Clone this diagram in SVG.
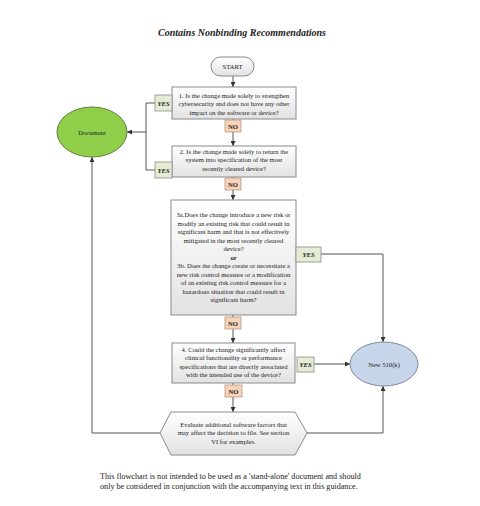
<svg xmlns="http://www.w3.org/2000/svg" width="480" height="506" viewBox="0 0 480 506">
<defs>
<linearGradient id="boxg" x1="0" y1="0" x2="0" y2="1">
<stop offset="0" stop-color="#ffffff"/>
<stop offset="1" stop-color="#e2e2e2"/>
</linearGradient>
<marker id="arr" viewBox="0 0 6 6" refX="6" refY="3" markerWidth="5" markerHeight="5" orient="auto" markerUnits="userSpaceOnUse">
<path d="M0,0 L6,3 L0,6 z" fill="#333"/>
</marker>
</defs>
<style>
text{font-family:"Liberation Serif","Times New Roman",serif;fill:#222;text-anchor:middle}
.t{font-size:6.6px}
.box{fill:url(#boxg);stroke:#8a8a8a;stroke-width:1}
.yes{fill:#e6ecd4;stroke:#8a8a8a;stroke-width:0.8}
.no{fill:#f9d3b8;stroke:#b09a8a;stroke-width:0.8}
.lbl{font-size:6.6px;font-weight:bold}
.yl{font-style:italic}
.ln{fill:none;stroke:#555;stroke-width:1}
.foot{font-size:8.15px;text-anchor:start;fill:#222}
</style>
<rect width="480" height="506" fill="#fff"/>
<text x="242" y="36" style="font-size:10px;font-weight:bold;font-style:italic">Contains Nonbinding Recommendations</text>

<g id="connectors">
<path class="ln" d="M233,76 V87" marker-end="url(#arr)"/>
<path class="ln" d="M233,119 V146" marker-end="url(#arr)"/>
<path class="ln" d="M233,177 V200" marker-end="url(#arr)"/>
<path class="ln" d="M233,315 V343" marker-end="url(#arr)"/>
<path class="ln" d="M233,383 V412" marker-end="url(#arr)"/>
<path class="ln" d="M155,103 H146 V170 H155"/>
<path class="ln" d="M146,132 H127" marker-end="url(#arr)"/>
<path class="ln" d="M321,254 H383 V342" marker-end="url(#arr)"/>
<path class="ln" d="M314,364 H350" marker-end="url(#arr)"/>
<path class="ln" d="M307,433 H383 V386" marker-end="url(#arr)"/>
<path class="ln" d="M160,433 H92 V157" marker-end="url(#arr)"/>
</g>

<g id="start">
<rect x="211" y="57" width="43" height="19" rx="9.5" class="box"/>
<text x="232.5" y="69" class="t">START</text>
</g>

<g id="q1">
<rect x="172" y="87" width="124" height="32" class="box"/>
<text class="t" x="234" y="97.5">1. Is the change made solely to strengthen</text>
<text class="t" x="234" y="106">cybersecurity and does not have any other</text>
<text class="t" x="234" y="114.5">impact on the software or device?</text>
</g>
<g id="yes1"><rect x="155" y="95" width="17" height="16" class="yes"/><text x="163.5" y="105.5" class="lbl yl">YES</text></g>
<g id="no1"><rect x="225" y="120" width="16" height="12" class="no"/><text x="233" y="128.5" class="lbl">NO</text></g>

<g id="q2">
<rect x="172" y="146" width="124" height="31" class="box"/>
<text class="t" x="234" y="153.5">2. Is the change made solely to return the</text>
<text class="t" x="234" y="162">system into specification of the most</text>
<text class="t" x="234" y="170.5">recently cleared device?</text>
</g>
<g id="yes2"><rect x="155" y="162" width="17" height="16" class="yes"/><text x="163.5" y="172.5" class="lbl yl">YES</text></g>
<g id="no2"><rect x="225" y="178" width="16" height="12" class="no"/><text x="233" y="186.5" class="lbl">NO</text></g>

<g id="document">
<ellipse cx="92" cy="132" rx="35" ry="25" fill="#8fcf4a" stroke="#5f7f3a" stroke-width="1"/>
<text x="92" y="134.5" class="t">Document</text>
</g>

<g id="q3">
<rect x="171" y="200" width="125" height="115" class="box"/>
<text class="t" x="233.5" y="217">3a.Does the change introduce a new risk or</text>
<text class="t" x="233.5" y="225.5">modify an existing risk that could result in</text>
<text class="t" x="233.5" y="234">significant harm and that is not effectively</text>
<text class="t" x="233.5" y="242.5">mitigated in the most recently cleared</text>
<text class="t" x="233.5" y="251">device?</text>
<text class="t" x="233.5" y="259.5" style="font-weight:bold">or</text>
<text class="t" x="233.5" y="268">3b. Does the change create or necessitate a</text>
<text class="t" x="233.5" y="276.5">new risk control measure or a modification</text>
<text class="t" x="233.5" y="285">of an existing risk control measure for a</text>
<text class="t" x="233.5" y="293.5">hazardous situation that could result in</text>
<text class="t" x="233.5" y="302">significant harm?</text>
</g>
<g id="yes3"><rect x="296" y="247" width="25" height="15" class="yes"/><text x="308.5" y="257" class="lbl yl">YES</text></g>
<g id="no3"><rect x="225" y="317" width="16" height="12" class="no"/><text x="233" y="325.5" class="lbl">NO</text></g>

<g id="q4">
<rect x="172" y="343" width="123" height="40" class="box"/>
<text class="t" x="233.5" y="351.5">4. Could the change significantly affect</text>
<text class="t" x="233.5" y="360">clinical functionality or performance</text>
<text class="t" x="233.5" y="368.5">specifications that are directly associated</text>
<text class="t" x="233.5" y="377">with the intended use of the device?</text>
</g>
<g id="yes4"><rect x="297" y="357" width="17" height="15" class="yes"/><text x="305.5" y="367" class="lbl yl">YES</text></g>
<g id="no4"><rect x="225" y="385" width="17" height="12" class="no"/><text x="233.5" y="393.5" class="lbl">NO</text></g>

<g id="new510k">
<ellipse cx="384" cy="364" rx="34" ry="22" fill="#c7d6ea" stroke="#7f8a99" stroke-width="1"/>
<text x="384" y="366.5" class="t">New 510(k)</text>
</g>

<g id="evaluate">
<polygon points="171,412 295,412 307,433 295,455 171,455 160,433" class="box"/>
<text class="t" x="233.5" y="426.5">Evaluate additional software factors that</text>
<text class="t" x="233.5" y="435">may affect the decision to file. See section</text>
<text class="t" x="233.5" y="443.5">VI for examples.</text>
</g>

<text x="100" y="479" class="foot">This flowchart is not intended to be used as a 'stand-alone' document and should</text>
<text x="100" y="489" class="foot">only be considered in conjunction with the accompanying text in this guidance.</text>
</svg>
